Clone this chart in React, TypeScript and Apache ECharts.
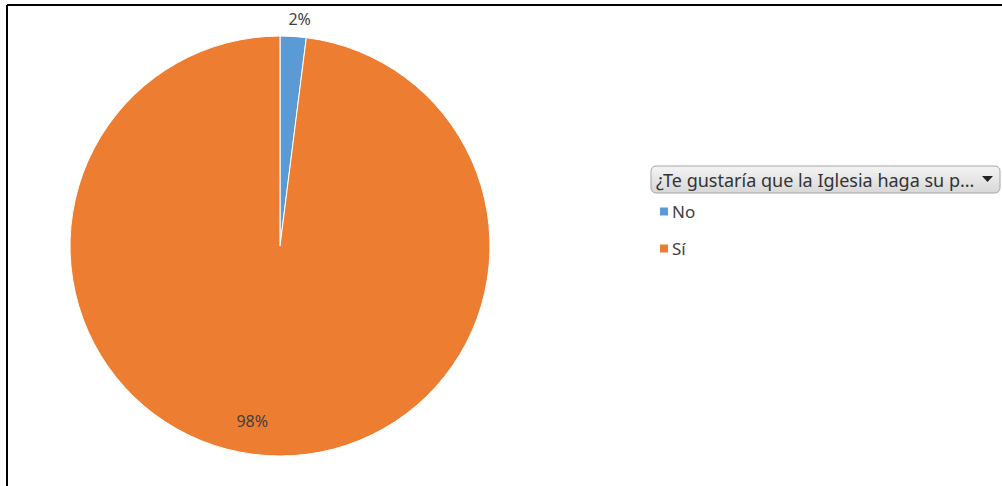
import React, { useEffect, useRef } from "react";
import * as echarts from "echarts";

const categories = ["No", "Sí"];
const values = [2, 98];
const colors = ["#5B9BD5", "#ED7D31"];
const legendTitle = "¿Te gustaría que la Iglesia haga su p...";

export default function App() {
  const ref = useRef<HTMLDivElement>(null);
  useEffect(() => {
    const chart = echarts.init(ref.current!, null, { renderer: "svg" });
    const font = "Noto Sans";
    chart.setOption({
      animation: false,
      backgroundColor: "#ffffff",
      textStyle: { fontFamily: font },
      legend: {
        orient: "vertical",
        left: 658,
        top: 203,
        padding: 0,
        itemWidth: 10,
        itemHeight: 10,
        itemGap: 20,
        icon: "rect",
        data: categories,
        textStyle: { fontFamily: font, fontSize: 17, color: "#404040", padding: [0, 0, 0, -2] },
      },
      graphic: [
        {
          type: "line",
          shape: { x1: 7, y1: 5, x2: 1002, y2: 5 },
          style: { stroke: "#000", lineWidth: 2 },
        },
        {
          type: "line",
          shape: { x1: 7, y1: 5, x2: 7, y2: 486 },
          style: { stroke: "#000", lineWidth: 2 },
        },
        {
          type: "rect",
          shape: { x: 651, y: 166, width: 349, height: 27, r: 5 },
          style: {
            fill: new echarts.graphic.LinearGradient(0, 0, 0, 1, [
              { offset: 0, color: "#f4f4f4" },
              { offset: 1, color: "#d8d8d8" },
            ]),
            stroke: "#a6a6a6",
            lineWidth: 1,
          },
        },
        {
          type: "text",
          x: 656,
          y: 180,
          style: {
            text: legendTitle,
            fontFamily: font,
            fontSize: 18,
            fill: "#333333",
            verticalAlign: "middle",
          },
        },
        {
          type: "polygon",
          shape: { points: [[982, 176], [993, 176], [987.5, 182]] },
          style: { fill: "#222" },
        },
      ],
      series: [
        {
          type: "pie",
          center: [280, 246],
          radius: 210,
          startAngle: 90,
          clockwise: true,
          label: {
            fontFamily: font,
            fontSize: 16,
            color: "#404040",
            formatter: "{d}%",
          },
          labelLine: { show: false },
          itemStyle: { borderColor: "#ffffff", borderWidth: 1 },
          labelLayout: (p: any) =>
            p.dataIndex === 1 ? { dx: -21, dy: 67 } : { dx: -5, dy: -13 },
          data: categories.map((c, i) => ({
            name: c,
            value: values[i],
            itemStyle: { color: colors[i] },
            label:
              i === 0
                ? { position: "outside", distanceToLabelLine: 0 }
                : { position: "inside" },
            labelLine: { show: false, length: 4, length2: 0 },
          })),
        },
      ],
    });
    return () => chart.dispose();
  }, []);
  return (
    <div
      ref={ref}
      style={{ position: "fixed", left: 0, top: 0, width: 1002, height: 486 }}
    />
  );
}
